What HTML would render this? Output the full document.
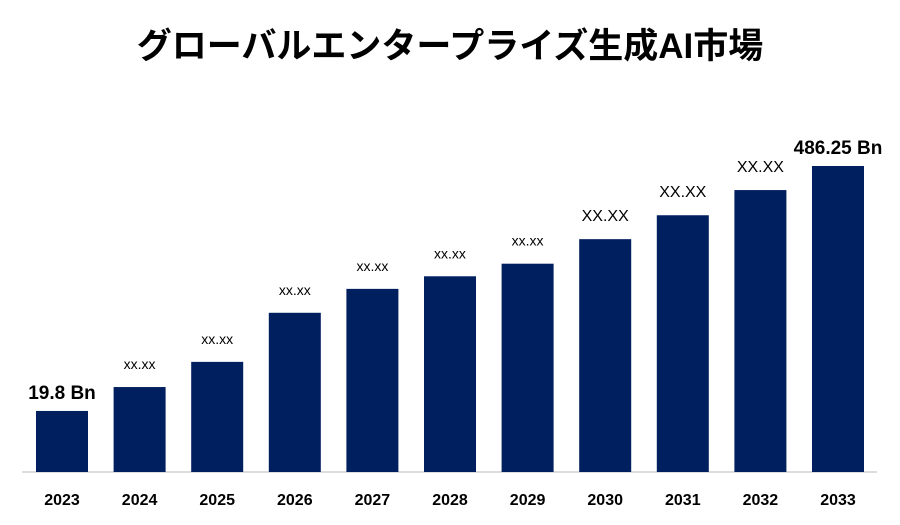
<!DOCTYPE html>
<html><head><meta charset="utf-8"><style>
body{margin:0;background:#fff;}
svg{display:block;font-family:"Liberation Sans","Noto Sans CJK JP",sans-serif;}
</style></head><body>
<svg id="chart" width="900" height="525">
<text x="450" y="58" text-anchor="middle" font-size="35" font-weight="bold" fill="#000">グローバルエンタープライズ生成AI市場</text>
<line x1="22" y1="472" x2="877" y2="472" stroke="#d0d0d0" stroke-width="1.5"/>
<g id="bars"></g>
</svg>
<script>
const categories=["2023","2024","2025","2026","2027","2028","2029","2030","2031","2032","2033"];
const values=[97,135,175,253,291,311,331,370,408,448,486.25];
const valueLabels=["19.8 Bn","xx.xx","xx.xx","xx.xx","xx.xx","xx.xx","xx.xx","XX.XX","XX.XX","XX.XX","486.25 Bn"];
const svg=document.getElementById('bars');
const ns="http://www.w3.org/2000/svg";
const x0=36,step=77.6,bw=52,base=472,maxV=486.25,maxH=306;
function xs(i){return x0+i*step;}
function ys(v){return base-v/maxV*maxH;}
categories.forEach((c,i)=>{
  const r=document.createElementNS(ns,'rect');
  
  
  r.setAttribute('x',xs(i));r.setAttribute('y',ys(values[i]));
  r.setAttribute('width',bw);r.setAttribute('height',base-ys(values[i]));
  r.setAttribute('fill','#001f5f');
  svg.appendChild(r);
  const t=document.createElementNS(ns,'text');
  
  
  t.setAttribute('x',xs(i)+bw/2);t.setAttribute('y',505);
  t.setAttribute('text-anchor','middle');t.setAttribute('font-size','16');t.setAttribute('font-weight','bold');
  t.textContent=c;svg.appendChild(t);
  const l=document.createElementNS(ns,'text');
  
  
  const lab=valueLabels[i];
  const big=lab.indexOf('Bn')>=0, upper=lab==='XX.XX';
  l.setAttribute('x',xs(i)+bw/2);l.setAttribute('y',ys(values[i])-(big?12:18));
  l.setAttribute('text-anchor','middle');
  l.setAttribute('font-size',big?'19':(upper?'16':'14'));
  if(big)l.setAttribute('font-weight','bold');
  l.textContent=lab;svg.appendChild(l);
});
</script>
</body></html>
